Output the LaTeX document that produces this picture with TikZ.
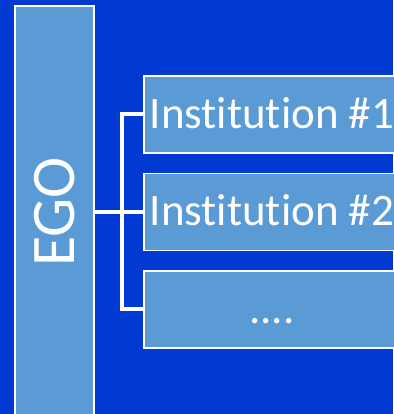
\documentclass[tikz,border=0pt]{standalone}
\usepackage{fontspec}
\setmainfont[RawFeature={-liga;-clig;-dlig}]{Carlito}
\usetikzlibrary{positioning}
\definecolor{slidebg}{RGB}{0,58,210}
\definecolor{boxfill}{RGB}{91,155,213}

\begin{document}
\begin{tikzpicture}[x=1pt,y=1pt,node distance=97.5pt,on grid,
    box/.style={draw=white,line width=1.4pt,fill=boxfill,text=white,inner sep=0pt},
    inst/.style={box,minimum width=256pt,minimum height=77pt,text height=28pt,text depth=0pt,
        font=\fontsize{45}{50}\selectfont},
    link/.style={draw=white,line width=4pt,line join=miter}]
    \fill[slidebg] (0,0) rectangle (393,414);
    \useasboundingbox (0,0) rectangle (393,414);

    \node[box,rotate=90,minimum width=412pt,minimum height=79pt,font=\fontsize{62}{70}\selectfont] (ego) at (54.5,202) {EGO};
    \node[inst] (i1) at (272,299.5) {Institution \#1};
    \node[inst] (i2) [below=of i1] {Institution \#2};
    \node[inst] (i3) [below=of i2] {....};
    \coordinate (fork) at (122,202);

    \path[link] (ego.south) -- (i2.west);
    \path[link] (i1.west) -| (fork) |- (i3.west);
\end{tikzpicture}
\end{document}
